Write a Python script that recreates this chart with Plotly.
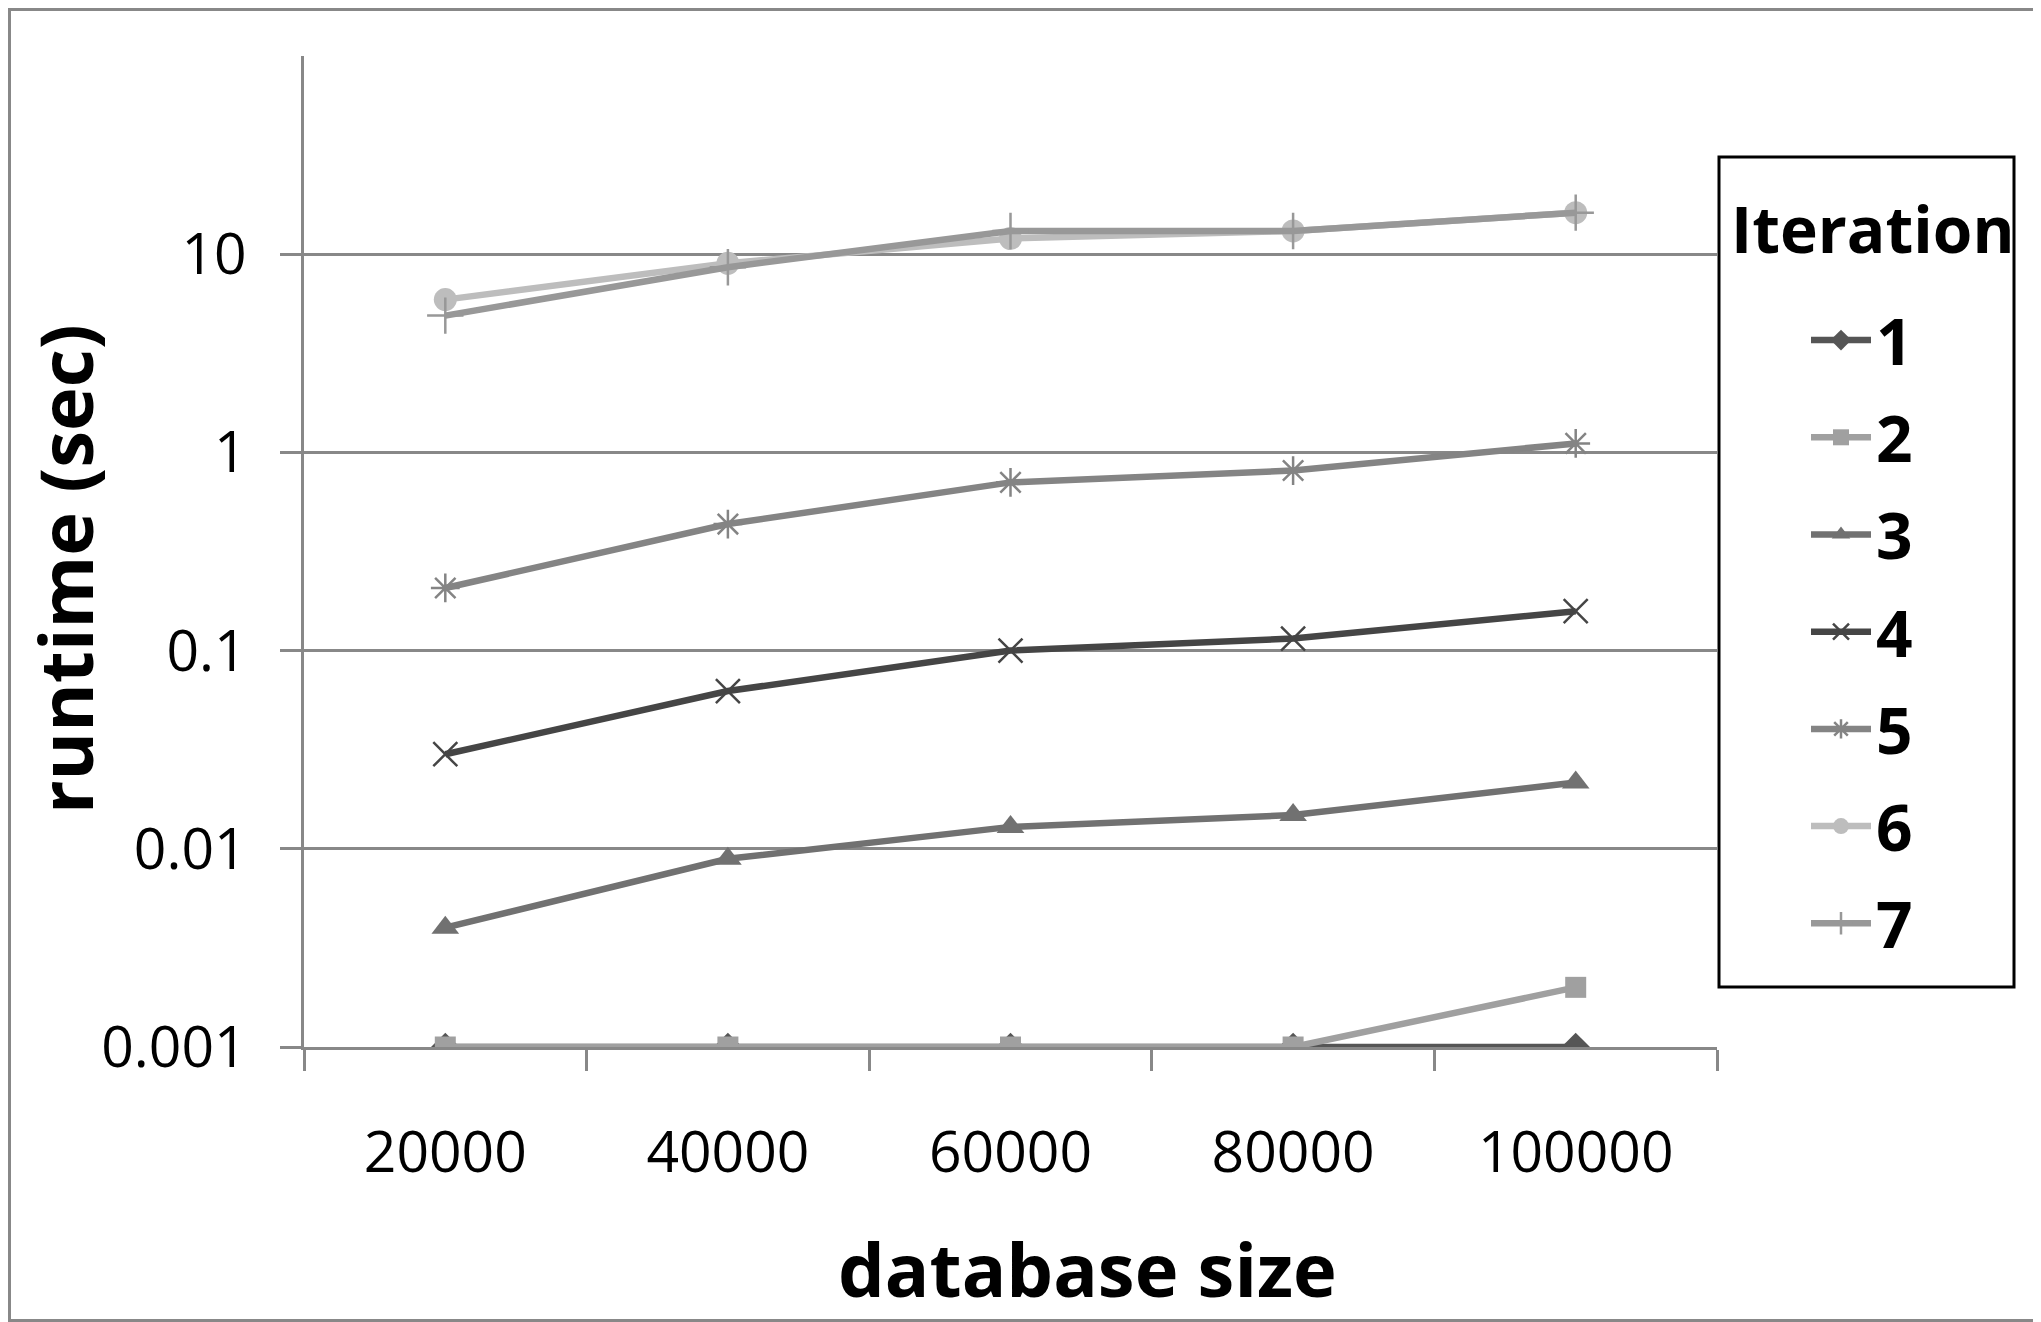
import plotly.graph_objects as go

# ---- data ----
db_sizes = ["20000", "40000", "60000", "80000", "100000"]
iter1 = [0.001, 0.001, 0.001, 0.001, 0.001]
iter2 = [0.001, 0.001, 0.001, 0.001, 0.002]
iter3 = [0.0040, 0.0089, 0.0129, 0.0148, 0.0216]
iter4 = [0.030, 0.0625, 0.100, 0.115, 0.158]
iter5 = [0.207, 0.435, 0.706, 0.81, 1.11]
iter6 = [5.9, 9.0, 12.0, 13.1, 16.2]
iter7 = [4.9, 8.6, 13.1, 13.1, 16.2]
series_names = ["1", "2", "3", "4", "5", "6", "7"]
y_tickvals = [0.001, 0.01, 0.1, 1, 10]
y_ticktext = ["0.001", "0.01", "0.1", "1", "10"]

series_values = [iter1, iter2, iter3, iter4, iter5, iter6, iter7]
colors = ["#555555", "#a0a0a0", "#717171", "#454545", "#848484", "#bdbdbd", "#989898"]
symbols = ["diamond", "square", "triangle-up", "x-thin-open", "asterisk-open", "circle", "cross-thin-open"]
msizes = [22, 21, 24, 24, 24, 23, 26]

# the page adds an 8px body margin; work in page coordinates and convert
OFF = 8
W, H = 2041 - OFF, 1322 - OFF
L, R, T, B = 304 - OFF, 1717 - OFF, 56 - OFF, 1047 - OFF


def px(xpage):
    return (xpage - OFF - L) / (R - L)


def py(ypage):
    return (B - (ypage - OFF)) / (B - T)


fig = go.Figure()
for i in range(7):
    sym = symbols[i]
    open_sym = sym.endswith("open")
    fig.add_trace(go.Scatter(
        x=db_sizes, y=series_values[i], name="<b>" + series_names[i] + "</b>",
        mode="lines+markers",
        line=dict(color=colors[i], width=6.5),
        marker=dict(symbol=sym, size=msizes[i], color=colors[i],
                    line=dict(color=colors[i], width=2.5 if open_sym else 0)),
        legendgroup="g" + series_names[i],
    ))

axis_gray = "#888888"
fig.update_layout(
    width=W, height=H,
    margin=dict(l=L, r=W - R, t=T, b=H - B, pad=0),
    paper_bgcolor="white", plot_bgcolor="white",
    font=dict(family="Open Sans", color="black", size=57),
    showlegend=True,
    legend=dict(
        x=px(1806), y=py(292), xanchor="left", yanchor="top",
        bgcolor="rgba(0,0,0,0)", borderwidth=0,
        font=dict(family="Open Sans", size=64, color="black"),
        itemwidth=60, tracegroupgap=11,
        traceorder="grouped",
    ),
    xaxis=dict(
        type="category", range=[-0.5, 4.5],
        showline=True, linecolor=axis_gray, linewidth=3,
        ticks="outside", ticklen=21, tickwidth=3, tickcolor=axis_gray,
        tickson="boundaries", showgrid=False, zeroline=False,
        tickfont=dict(family="Open Sans", size=57, color="black"),
        ticklabelstandoff=54,
    ),
    yaxis=dict(
        type="log", range=[-3, 2],
        tickvals=y_tickvals, ticktext=y_ticktext,
        showline=True, linecolor=axis_gray, linewidth=3,
        ticks="outside", ticklen=21, tickwidth=3, tickcolor=axis_gray,
        showgrid=True, gridcolor=axis_gray, gridwidth=3, zeroline=False,
        tickfont=dict(family="Open Sans", size=57, color="black"),
        ticklabelstandoff=22,
    ),
    annotations=[
        dict(text="<b>runtime (sec)</b>", textangle=-90, xref="paper", yref="paper",
             x=px(64), y=py(569), xanchor="center", yanchor="middle", showarrow=False,
             font=dict(family="Open Sans", size=74, color="black")),
        dict(text="<b>database size</b>", xref="paper", yref="paper",
             x=px(1087), y=py(1268), xanchor="center", yanchor="middle", showarrow=False,
             font=dict(family="Open Sans", size=74, color="black")),
        dict(text="<b>Iteration</b>", xref="paper", yref="paper",
             x=px(1873), y=py(228), xanchor="center", yanchor="middle", showarrow=False,
             font=dict(family="Open Sans", size=64, color="black")),
    ],
    shapes=[
        # legend box
        dict(type="rect", xref="paper", yref="paper",
             x0=px(1719), x1=px(2014), y0=py(157), y1=py(987),
             line=dict(color="black", width=3), fillcolor="rgba(0,0,0,0)", layer="above"),
        # outer frame
        dict(type="rect", xref="paper", yref="paper",
             x0=px(OFF + 1.5), x1=px(2041 - 1.5), y0=py(OFF + 1.5), y1=py(1322 - 1.5),
             line=dict(color=axis_gray, width=3), fillcolor="rgba(0,0,0,0)", layer="above"),
    ],
)

fig.write_html("out.html")
